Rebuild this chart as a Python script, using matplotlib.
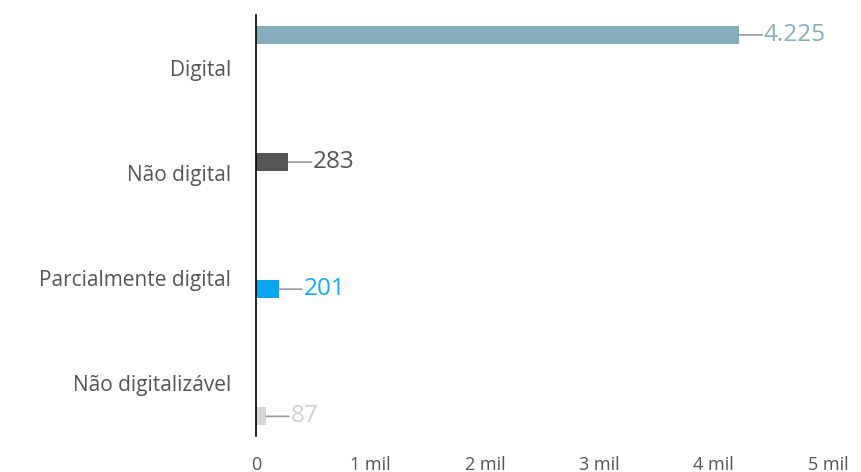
import matplotlib.pyplot as plt
import numpy as np

categories = ["Digital", "Não digital", "Parcialmente digital", "Não digitalizável"]
values = [4225, 283, 201, 87]
value_labels = ["4.225", "283", "201", "87"]
colors = ["#84aebd", "#555555", "#0aa6ef", "#d6d6d6"]
label_colors = ["#84aebd", "#555555", "#1aa9f0", "#d0d0d0"]
xticks = [0, 1000, 2000, 3000, 4000, 5000]
xtick_labels = ["0", "1 mil", "2 mil", "3 mil", "4 mil", "5 mil"]

plt.rcParams['font.family'] = ['Open Sans', 'DejaVu Sans']

fig = plt.figure(figsize=(8.62, 4.72), dpi=100)
ax = fig.add_axes([0.297, 0.076, 0.6636, 0.892])

n = len(categories)
slot = 0.208
pos = np.arange(n)
for i in range(n):
    # grouped layout: each series sits in its own slot within its category
    y = pos[i] + (i - (n - 1) / 2) * slot
    ax.barh(y, values[i], height=0.172, color=colors[i])
    ax.annotate("", xy=(values[i] + 200, y), xytext=(values[i], y),
                arrowprops=dict(arrowstyle="-", color="#999999", lw=1.2,
                                shrinkA=0, shrinkB=0))
    ax.text(values[i] + 215, y, value_labels[i], color=label_colors[i],
            fontsize=17.5, va="center", ha="left")

ax.set_ylim(3.5, -0.5)
ax.set_xlim(0, 5000)
ax.set_yticks(pos)
ax.set_yticklabels(categories, fontsize=15)
ax.set_xticks(xticks)
ax.set_xticklabels(xtick_labels, fontsize=13)
ax.tick_params(axis="both", length=0, colors="#555555")
ax.tick_params(axis="y", pad=18)
ax.tick_params(axis="x", pad=14)

for s in ["top", "right", "bottom"]:
    ax.spines[s].set_visible(False)
ax.spines["left"].set_color("black")
ax.spines["left"].set_linewidth(1.2)

plt.savefig("out.png", dpi=100)
